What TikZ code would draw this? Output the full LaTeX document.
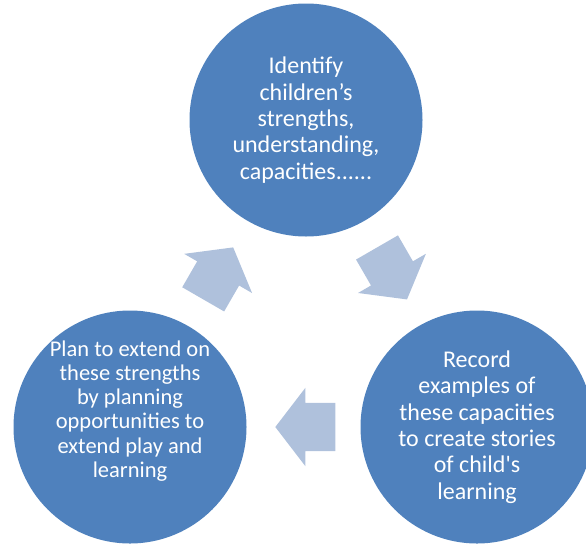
\documentclass[tikz,border=0pt]{standalone}
\usepackage{fontspec}
\setmainfont{Carlito}
\usetikzlibrary{shapes.arrows,calc,positioning}
\definecolor{cycblue}{HTML}{4F81BD}
\definecolor{cycarrow}{HTML}{AFC1DC}
\tikzset{
  stage/.style={circle,fill=cycblue,minimum size=233pt,inner sep=0pt,
    text=white,align=center,font=\fontsize{24}{26.3}\selectfont},
  stagetext/.style={text=white,align=center,inner sep=0pt,
    font=\fontsize{22.5}{24.2}\selectfont},
  cyclearrow/.style={single arrow,fill=cycarrow,inner xsep=0pt,inner ysep=24pt,
    minimum height=60pt,anchor=tail,
    single arrow head extend=15pt,single arrow tip angle=105}
}

\begin{document}
\begin{tikzpicture}[x=1pt,y=-1pt]
  \useasboundingbox (0,0) rectangle (586,544);

  \node [stage] (ident) at (306,120) {Identify\\children’s\\strengths,\\understanding,\\capacities......};
  \node [stage] (record) at (477,427) {Record\\examples of\\these capacities\\to create stories\\of child\textquotesingle s\\learning};
  \node [stage] (plan) at (130,427) {};
  \node [stagetext] (plantext) at ([yshift=16pt]plan.center) {Plan to extend on\\these strengths\\by planning\\opportunities to\\extend play and\\learning};

  % arrows sit on the midpoints between the circles, tail anchored 30pt back
  \node [cyclearrow,rotate=-60] (toRecord) at ($(ident)!0.5!(record)!30pt!(ident)$) {};
  \node [cyclearrow,rotate=180] (toPlan) at ($(record)!0.5!(plan)!32pt!(record)$) {};
  \node [cyclearrow,rotate=60] (toIdent) at ($(plan)!0.5!(ident)!30pt!(plan)$) {};
\end{tikzpicture}
\end{document}
